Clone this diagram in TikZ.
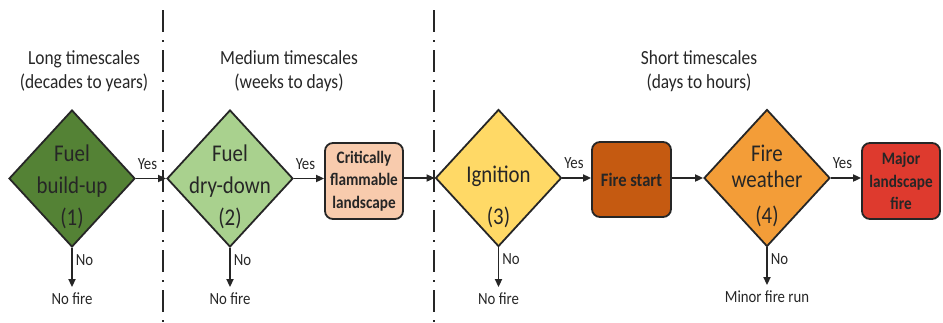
\documentclass[tikz,border=0pt]{standalone}
\usepackage{fontspec}
\setmainfont{Carlito}[FakeStretch=0.87]
\usepackage{tikz}
\usetikzlibrary{arrows.meta,shapes.geometric}

\definecolor{fuelgreen}{RGB}{84,130,53}
\definecolor{drygreen}{RGB}{169,209,142}
\definecolor{peach}{RGB}{248,203,173}
\definecolor{ignyellow}{RGB}{255,217,102}
\definecolor{startbrown}{RGB}{197,90,17}
\definecolor{wxorange}{RGB}{243,157,56}
\definecolor{majorred}{RGB}{222,58,46}
\definecolor{ink}{RGB}{38,38,38}

\begin{document}
\begin{tikzpicture}[
  x=1pt, y=-1pt,
  decision/.style={diamond, draw=ink, line width=1.8pt, minimum width=126pt, minimum height=137pt, inner sep=0pt},
  dtext/.style={align=center, text=ink, font=\fontsize{24}{32}\selectfont},
  outcome/.style={draw=ink, rounded corners=8pt, line width=1.8pt, minimum width=78pt, minimum height=76pt, align=center, inner sep=1pt, text=ink, font=\bfseries\fontsize{17.5}{22.5}\selectfont},
  period/.style={align=center, text=ink, font=\fontsize{20}{24}\selectfont},
  ans/.style={text=ink, font=\fontsize{17}{18}\selectfont},
  endlbl/.style={ans, inner sep=2pt, outer sep=4pt},
  yeslbl/.style={ans, anchor=south west, inner sep=1pt, yshift=7pt},
  nolbl/.style={ans, right, pos=0.3, inner sep=3pt},
  flow/.style={draw=ink, line width=1.8pt, -{Triangle[length=8pt,width=7pt]}},
  divider/.style={draw=ink, line width=1.5pt, dash pattern=on 22pt off 8pt on 2pt off 8pt}
]
\useasboundingbox (0,0) rectangle (943,322);

% timescale dividers
\draw[divider] (163,10) -- (163,322);
\draw[divider] (434,10) -- (434,322);

% timescale headings
\node[period] (long) at (84,71) {Long timescales\\(decades to years)};
\node[period] (medium) at (289,71) {Medium timescales\\(weeks to days)};
\node[period] (short) at (699,71) {Short timescales\\(days to hours)};

% decisions
\node[decision, fill=fuelgreen] (fuel) at (72,178.5) {};
\node[dtext] (fuel-txt) at (72,187) {Fuel\\build-up\\(1)};
\node[decision, fill=drygreen] (dry) at (230,178.5) {};
\node[dtext] (dry-txt) at (230,187) {Fuel\\dry-down\\(2)};
\node[decision, fill=ignyellow] (ign) at (498.5,178) {};
\node[dtext] (ign-txt) at (498.5,197) {Ignition\\[10pt](3)};
\node[decision, fill=wxorange] (wx) at (767,178) {};
\node[dtext] (wx-txt) at (767,186) {Fire\\[-6pt]weather\\[4pt](4)};

% outcomes
\node[outcome, fill=peach] (flam) at (364,181) {Critically\\flammable\\landscape};
\node[outcome, fill=startbrown, minimum width=79pt, minimum height=75pt, font=\bfseries\fontsize{19}{22.5}\selectfont] (start) at (631.5,179.5) {Fire start};
\node[outcome, fill=majorred] (major) at (901,181) {Major\\landscape\\fire};

% end states
\node[endlbl] (nofire1) at (72,299) {No fire};
\node[endlbl] (nofire2) at (230,299) {No fire};
\node[endlbl] (nofire3) at (498.5,299) {No fire};
\node[endlbl] (minor) at (767,297) {Minor fire run};

% yes branch
\draw[flow] (fuel.east) node[yeslbl] {Yes} -- (dry.west);
\draw[flow] (dry.east) node[yeslbl] {Yes} -- (flam.west |- dry.east);
\draw[flow] (flam.east |- ign.west) -- (ign.west);
\draw[flow] (ign.east) node[yeslbl] {Yes} -- (start.west |- ign.east);
\draw[flow] (start.east |- wx.west) -- (wx.west);
\draw[flow] (wx.east) node[yeslbl] {Yes} -- (major.west |- wx.east);

% no branch
\draw[flow] (fuel.south) -- node[nolbl] {No} (nofire1);
\draw[flow] (dry.south) -- node[nolbl] {No} (nofire2);
\draw[flow] (ign.south) -- node[nolbl] {No} (nofire3);
\draw[flow] (wx.south) -- node[nolbl] {No} (minor);
\end{tikzpicture}
\end{document}
